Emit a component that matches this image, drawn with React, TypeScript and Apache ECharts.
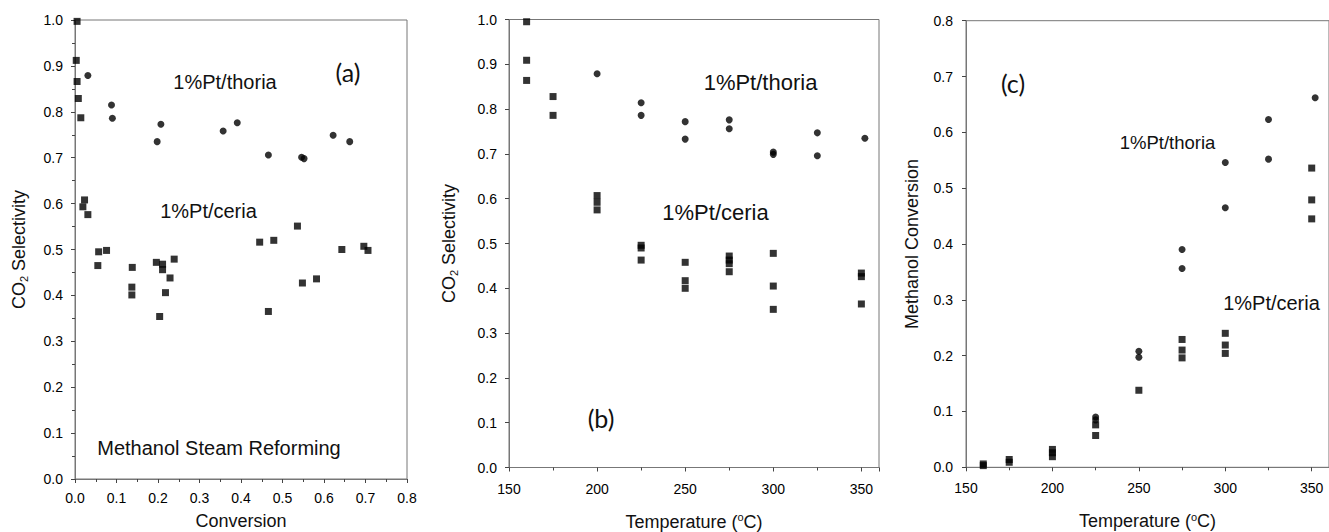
import React, { useEffect, useRef } from "react";
import * as echarts from "echarts";

// Panel (a): CO2 selectivity vs conversion
const thoriaA: number[][] = [
  [0.031, 0.879], [0.088, 0.815], [0.090, 0.786], [0.198, 0.735], [0.207, 0.773],
  [0.357, 0.758], [0.391, 0.776], [0.466, 0.706], [0.546, 0.701], [0.552, 0.698],
  [0.622, 0.749], [0.662, 0.735],
];
const ceriaA: number[][] = [
  [0.005, 0.997], [0.003, 0.912], [0.005, 0.866], [0.008, 0.829], [0.014, 0.787],
  [0.023, 0.608], [0.019, 0.593], [0.031, 0.576], [0.057, 0.495], [0.076, 0.498],
  [0.055, 0.465], [0.138, 0.461], [0.137, 0.418], [0.137, 0.401], [0.196, 0.472],
  [0.211, 0.468], [0.211, 0.456], [0.229, 0.438], [0.218, 0.406], [0.204, 0.354],
  [0.239, 0.479], [0.445, 0.516], [0.479, 0.520], [0.536, 0.551], [0.466, 0.365],
  [0.548, 0.427], [0.582, 0.436], [0.643, 0.500], [0.696, 0.507], [0.706, 0.498],
];

// Panel (b): CO2 selectivity vs temperature
const thoriaB: number[][] = [
  [200, 0.879], [225, 0.814], [225, 0.786], [250, 0.772], [250, 0.733],
  [275, 0.776], [275, 0.756], [300, 0.704], [300, 0.699], [325, 0.747],
  [325, 0.696], [352, 0.735],
];
const ceriaB: number[][] = [
  [160, 0.995], [160, 0.909], [160, 0.864], [175, 0.828], [175, 0.786],
  [200, 0.607], [200, 0.592], [200, 0.575], [225, 0.496], [225, 0.490],
  [225, 0.463], [250, 0.458], [250, 0.417], [250, 0.400], [275, 0.472],
  [275, 0.463], [275, 0.455], [275, 0.437], [300, 0.478], [300, 0.405],
  [300, 0.353], [350, 0.434], [350, 0.426], [350, 0.365],
];

// Panel (c): methanol conversion vs temperature
const thoriaC: number[][] = [
  [225, 0.090], [225, 0.085], [250, 0.208], [250, 0.197], [275, 0.390],
  [275, 0.356], [300, 0.546], [300, 0.465], [325, 0.623], [325, 0.552],
  [352, 0.662],
];
const ceriaC: number[][] = [
  [160, 0.006], [160, 0.003], [175, 0.014], [175, 0.009], [200, 0.032],
  [200, 0.026], [200, 0.019], [225, 0.076], [225, 0.057], [250, 0.138],
  [275, 0.229], [275, 0.210], [275, 0.196], [300, 0.240], [300, 0.219],
  [300, 0.204], [350, 0.536], [350, 0.479], [350, 0.445],
];

const tickFont = "'Liberation Sans', Arial, sans-serif";
const labelFont = "'Lato', 'Open Sans', sans-serif";

export default function App() {
  const ref = useRef<HTMLDivElement>(null);
  useEffect(() => {
    if (!ref.current) return;
    const chart = echarts.init(ref.current, undefined, { renderer: "svg" });
    const axisLine = { show: true, lineStyle: { color: "#777", width: 1 } };
    const axisLabel = (dec: number) => ({
      color: "#000",
      fontSize: 14,
      fontFamily: tickFont,
      formatter: (v: number) => v.toFixed(dec),
    });
    const nameStyle = {
      color: "#111",
      fontSize: 18,
      fontFamily: tickFont,
      rich: {
        sub: { fontSize: 11, fontFamily: tickFont, color: "#111", padding: [9, 0, 0, 0] },
        sup: { fontSize: 11, fontFamily: tickFont, color: "#111", padding: [0, 0, 9, 0] },
      },
    };
    const grid = (left: number, top: number, width: number, height: number) => ({
      left, top, width, height, show: true, borderColor: "#777", borderWidth: 1,
      backgroundColor: "transparent", containLabel: false, outerBoundsMode: "none",
    });
    const sym = (name: string, data: number[][], idx: number, shape: string) => ({
      name, type: "scatter", xAxisIndex: idx, yAxisIndex: idx, data,
      symbol: shape, symbolSize: 7, itemStyle: { color: "#000" },
    });
    const txt = (text: string, x: number, y: number, size: number, family = tickFont) => ({
      type: "text", x, y,
      style: { text, fill: "#111", font: `${size}px ${family}`, align: "center", verticalAlign: "middle" },
    });
    const tick = { show: true, length: 4, lineStyle: { color: "#444" } };
    const minor = { show: true, splitNumber: 2, length: 3, lineStyle: { color: "#444" } };
    const yName = "CO{sub|2} Selectivity";
    const tName = "Temperature ({sup|o}C)";
    chart.setOption({
      animation: false,
      grid: [
        grid(75, 20, 332, 459),
        grid(509, 19.5, 370, 448),
        grid(966, 20.7, 363, 446.6),
      ],
      xAxis: [
        {
          gridIndex: 0, type: "value", min: 0, max: 0.8, interval: 0.1,
          axisLine, axisTick: tick, minorTick: minor,
          splitLine: { show: false }, axisLabel: { ...axisLabel(1), margin: 12 },
          name: "Conversion", nameLocation: "middle", nameGap: 33, nameTextStyle: nameStyle,
        },
        {
          gridIndex: 1, type: "value", min: 150, max: 360, interval: 50,
          axisLine, axisTick: tick, minorTick: minor,
          splitLine: { show: false }, axisLabel: { ...axisLabel(0), margin: 14, showMaxLabel: false },
          name: tName, nameLocation: "middle", nameGap: 44, nameTextStyle: nameStyle,
        },
        {
          gridIndex: 2, type: "value", min: 150, max: 360, interval: 50,
          axisLine, axisTick: tick, minorTick: minor,
          splitLine: { show: false }, axisLabel: { ...axisLabel(0), margin: 14, showMaxLabel: false },
          name: tName, nameLocation: "middle", nameGap: 44, nameTextStyle: nameStyle,
        },
      ],
      yAxis: [
        {
          gridIndex: 0, type: "value", min: 0, max: 1, interval: 0.1,
          axisLine, axisTick: tick, minorTick: minor,
          splitLine: { show: false }, axisLabel: { ...axisLabel(1), margin: 12 },
          name: yName, nameLocation: "middle", nameRotate: 90, nameGap: 46, nameTextStyle: nameStyle,
        },
        {
          gridIndex: 1, type: "value", min: 0, max: 1, interval: 0.1,
          axisLine, axisTick: tick,
          splitLine: { show: false }, axisLabel: { ...axisLabel(1), margin: 12 },
          name: yName, nameLocation: "middle", nameRotate: 90, nameGap: 50, nameTextStyle: nameStyle,
        },
        {
          gridIndex: 2, type: "value", min: 0, max: 0.8, interval: 0.1,
          axisLine, axisTick: tick,
          splitLine: { show: false }, axisLabel: { ...axisLabel(1), margin: 13 },
          name: "Methanol Conversion", nameLocation: "middle", nameRotate: 90, nameGap: 45, nameTextStyle: nameStyle,
        },
      ],
      series: [
        sym("1%Pt/thoria (a)", thoriaA, 0, "circle"),
        sym("1%Pt/ceria (a)", ceriaA, 0, "rect"),
        sym("1%Pt/thoria (b)", thoriaB, 1, "circle"),
        sym("1%Pt/ceria (b)", ceriaB, 1, "rect"),
        sym("1%Pt/thoria (c)", thoriaC, 2, "circle"),
        sym("1%Pt/ceria (c)", ceriaC, 2, "rect"),
      ],
      graphic: [
        txt("1%Pt/thoria", 225, 82, 20),
        txt("1%Pt/ceria", 208.5, 211, 20),
        txt("Methanol Steam Reforming", 219, 448, 20),
        txt("(a)", 348, 72, 25, labelFont),
        txt("1%Pt/thoria", 760.5, 82, 22),
        txt("1%Pt/ceria", 715.5, 212, 22),
        txt("(b)", 601, 418, 25, labelFont),
        txt("1%Pt/thoria", 1167.5, 142, 18.5),
        txt("1%Pt/ceria", 1271.5, 303, 20),
        txt("(c)", 1013, 83, 25, labelFont),
      ],
    });
    return () => chart.dispose();
  }, []);
  return (
    <div
      ref={ref}
      style={{ position: "fixed", left: 0, top: 0, width: 1329, height: 532, background: "#fff" }}
    />
  );
}
